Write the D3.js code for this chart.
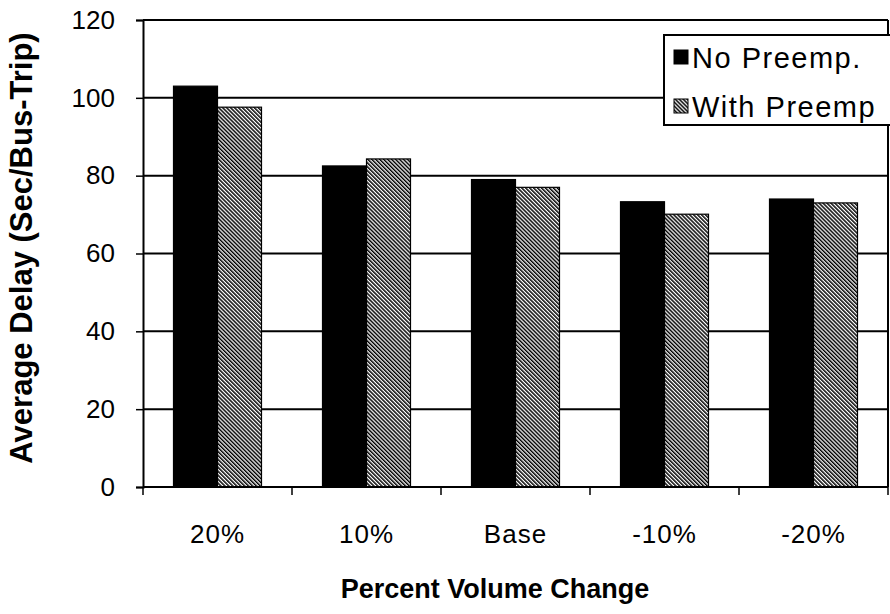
<!DOCTYPE html>
<html>
<head>
<meta charset="utf-8">
<script src="https://cdn.jsdelivr.net/npm/d3@7"></script>
<style>
  html, body { margin: 0; padding: 0; background: #fff; }
  svg { display: block; font-family: "Liberation Sans", Arial, sans-serif; }
</style>
</head>
<body>
<svg id="chart" width="890" height="614"></svg>
<script>
// Average bus delay by percent change in traffic volume
const categories = ["20%", "10%", "Base", "-10%", "-20%"];
const seriesNames = ["No Preemp.", "With Preemp"];
const noPreemp = [103.0, 82.5, 79.0, 73.3, 74.0];
const withPreemp = [97.6, 84.3, 77.0, 70.1, 73.0];
const yTicks = [0, 20, 40, 60, 80, 100, 120];

const svg = d3.select("#chart");
const margin = { left: 143, right: 2, top: 20, bottom: 127 };
const W = 890, H = 614;
const plotW = W - margin.left - margin.right;
const plotH = H - margin.top - margin.bottom;

const x = d3.scaleBand().domain(categories).range([0, plotW]);
const xs = d3.scaleBand().domain(seriesNames).range([0, 88]);
const y = d3.scaleLinear().domain([0, 120]).range([plotH, 0]);

// Diagonal hatch for the "With Preemp" series
const defs = svg.append("defs");
const pat = defs.append("pattern")
  .attr("id", "hatch")
  .attr("patternUnits", "userSpaceOnUse")
  .attr("width", 2.8).attr("height", 2.8)
  .attr("patternTransform", "rotate(-45)");
pat.append("rect").attr("width", 2.8).attr("height", 2.8).attr("fill", "#fff");
pat.append("rect").attr("width", 1.5).attr("height", 2.8).attr("fill", "#000");

const fills = { "No Preemp.": "#000", "With Preemp": "url(#hatch)" };

const g = svg.append("g").attr("transform", `translate(${margin.left},${margin.top})`);

// Horizontal gridlines
g.append("g").selectAll("line")
  .data(yTicks.filter(t => t > 0))
  .join("line")
  .attr("x1", 0).attr("x2", plotW)
  .attr("y1", d => y(d)).attr("y2", d => y(d))
  .attr("stroke", "#000").attr("stroke-width", 2);

// Right border of the plot area
g.append("line")
  .attr("x1", plotW).attr("x2", plotW)
  .attr("y1", 0).attr("y2", plotH)
  .attr("stroke", "#000").attr("stroke-width", 2);

// Bars
const rows = categories.map((c, i) => ({ cat: c, vals: [
  { s: seriesNames[0], v: noPreemp[i] },
  { s: seriesNames[1], v: withPreemp[i] }
]}));

const groups = g.append("g").selectAll("g")
  .data(rows)
  .join("g")
  .attr("transform", d => `translate(${x(d.cat) + x.bandwidth() / 2 - 44},0)`);

groups.selectAll("rect")
  .data(d => d.vals)
  .join("rect")
  .attr("x", d => xs(d.s))
  .attr("width", xs.bandwidth())
  .attr("y", d => y(d.v))
  .attr("height", d => y(0) - y(d.v))
  .attr("fill", d => fills[d.s])
  .attr("stroke", "#000")
  .attr("stroke-width", 1.2);

// Y axis
const yAxis = g.append("g")
  .call(d3.axisLeft(y).tickValues(yTicks).tickSize(7).tickPadding(21));
yAxis.select(".domain").attr("stroke-width", 2);
yAxis.selectAll(".tick line").attr("stroke-width", 1.5);
yAxis.selectAll("text")
  .attr("font-size", 26)
  .attr("font-family", "Liberation Sans, Arial, sans-serif")
  .attr("fill", "#000");

// X axis: ticks sit at category boundaries
const xAxis = g.append("g").attr("transform", `translate(0,${plotH})`);
xAxis.append("line")
  .attr("x1", 0).attr("x2", plotW)
  .attr("stroke", "#000").attr("stroke-width", 2);
const bounds = d3.range(categories.length + 1).map(i => i * x.step());
xAxis.selectAll("line.tk")
  .data(bounds)
  .join("line").attr("class", "tk")
  .attr("x1", d => d).attr("x2", d => d)
  .attr("y1", 0).attr("y2", 8)
  .attr("stroke", "#000").attr("stroke-width", 1.5);
xAxis.selectAll("text")
  .data(categories)
  .join("text")
  .attr("x", d => x(d) + x.bandwidth() / 2)
  .attr("y", 56)
  .attr("text-anchor", "middle")
  .attr("font-size", 26)
  .attr("letter-spacing", 1)
  .text(d => d);

// Top border
g.append("line")
  .attr("x1", 0).attr("x2", plotW)
  .attr("y1", 0).attr("y2", 0)
  .attr("stroke", "#000").attr("stroke-width", 2);

// Axis titles
svg.append("text")
  .attr("x", 495).attr("y", 598)
  .attr("text-anchor", "middle")
  .attr("font-size", 27).attr("font-weight", "bold")
  .text("Percent Volume Change");

svg.append("text")
  .attr("transform", "translate(32,248) rotate(-90)")
  .attr("text-anchor", "middle")
  .attr("font-size", 31).attr("font-weight", "bold")
  .text("Average Delay (Sec/Bus-Trip)");

// Legend
const lg = svg.append("g").attr("transform", "translate(664,35)");
lg.append("rect")
  .attr("width", 240).attr("height", 90)
  .attr("fill", "#fff").attr("stroke", "#000").attr("stroke-width", 2);
const items = lg.selectAll("g.item")
  .data(seriesNames)
  .join("g").attr("class", "item")
  .attr("transform", (d, i) => `translate(10,${15 + i * 49})`);
items.append("rect")
  .attr("width", 14).attr("height", 14)
  .attr("fill", d => fills[d])
  .attr("stroke", "#000").attr("stroke-width", 1);
items.append("text")
  .attr("x", 18).attr("y", 8)
  .attr("dy", "0.36em")
  .attr("font-size", 29)
  .attr("letter-spacing", 1.5)
  .text(d => d);
</script>
</body>
</html>
